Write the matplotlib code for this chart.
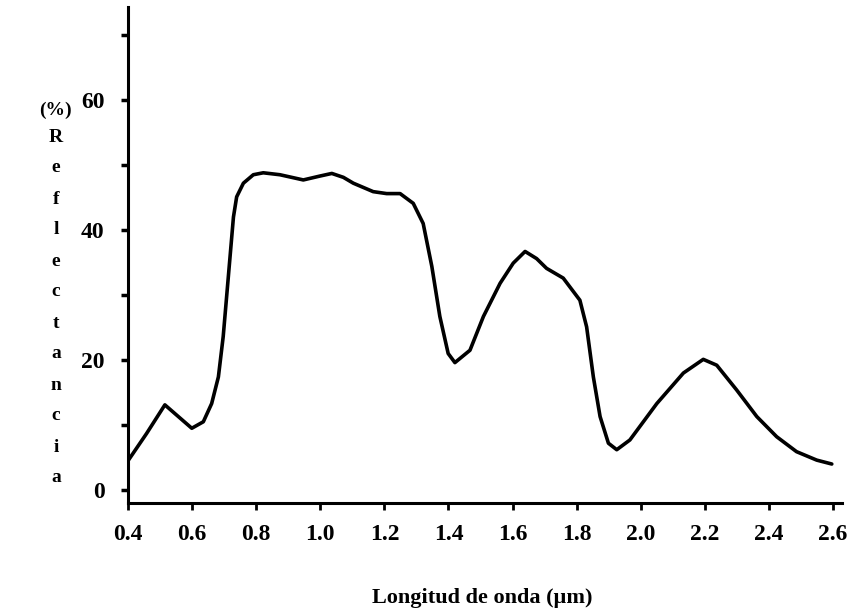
import matplotlib
matplotlib.use("Agg")
import matplotlib.pyplot as plt
from matplotlib.ticker import MultipleLocator

# Spectral reflectance curve
wavelength = [0.40, 0.458, 0.515, 0.557, 0.599, 0.635, 0.661, 0.682, 0.697, 0.713,
              0.729, 0.739, 0.760, 0.791, 0.822, 0.874, 0.947, 0.999, 1.036, 1.072,
              1.103, 1.165, 1.207, 1.249, 1.290, 1.321, 1.348, 1.373, 1.399, 1.420,
              1.467, 1.509, 1.561, 1.602, 1.639, 1.675, 1.706, 1.758, 1.810, 1.831,
              1.852, 1.873, 1.899, 1.925, 1.966, 2.050, 2.133, 2.195, 2.237, 2.299,
              2.362, 2.424, 2.486, 2.549, 2.596]
reflectance = [4.5, 8.7, 13.1, 11.3, 9.5, 10.5, 13.3, 17.4, 23.6, 32.8,
               42.0, 45.1, 47.2, 48.5, 48.8, 48.5, 47.7, 48.3, 48.7, 48.1,
               47.2, 45.9, 45.6, 45.6, 44.1, 41.0, 34.4, 26.7, 21.0, 19.6,
               21.5, 26.7, 31.8, 34.9, 36.7, 35.6, 34.1, 32.6, 29.2, 25.1,
               17.4, 11.3, 7.2, 6.2, 7.7, 13.3, 18.0, 20.1, 19.2, 15.4,
               11.3, 8.2, 5.9, 4.6, 4.0]

x_ticks = [0.4, 0.6, 0.8, 1.0, 1.2, 1.4, 1.6, 1.8, 2.0, 2.2, 2.4, 2.6]
y_ticks = [0, 20, 40, 60]
y_letters = list("Reflectancia")

FONT = "Liberation Serif"

fig = plt.figure(figsize=(8.54, 6.16), dpi=100)
ax = fig.add_axes([0.1499, 0.1834, 0.986 - 0.1499, 0.9886 - 0.1834])

ax.plot(wavelength, reflectance, color="black", linewidth=2.6,
        solid_capstyle="round", solid_joinstyle="round")

ax.set_xlim(0.4, 2.628)
ax.set_ylim(-2, 74.3)

for side in ["top", "right"]:
    ax.spines[side].set_visible(False)
for side in ["left", "bottom"]:
    ax.spines[side].set_linewidth(2.2)
    ax.spines[side].set_color("black")

ax.set_xticks(x_ticks)
ax.set_xticklabels([f"{v:.1f}" for v in x_ticks])
ax.set_yticks(y_ticks)
ax.yaxis.set_minor_locator(MultipleLocator(10))
ax.tick_params(axis="x", direction="out", length=5, width=2, pad=10)
ax.tick_params(axis="y", which="both", direction="out", length=5, width=2.5, pad=12)
for lbl in ax.get_xticklabels() + ax.get_yticklabels():
    lbl.set_fontfamily(FONT)
    lbl.set_fontweight("bold")
    lbl.set_fontsize(17)

# x-axis title
fig.text(482 / 854, 1 - 598 / 616, "Longitud de onda (µm)", ha="center", va="center",
         fontfamily=FONT, fontweight="bold", fontsize=16)

# y-axis title: "(%)" and the word stacked letter by letter
fig.text(55 / 854, 1 - 110 / 616, "(%)", ha="center", va="center",
         fontfamily=FONT, fontweight="bold", fontsize=14)
for i, ch in enumerate(y_letters):
    ypx = 137 + i * 31
    fig.text(56 / 854, 1 - ypx / 616, ch, ha="center", va="center",
             fontfamily=FONT, fontweight="bold", fontsize=14)

fig.savefig("out.png", dpi=100, facecolor="white")
